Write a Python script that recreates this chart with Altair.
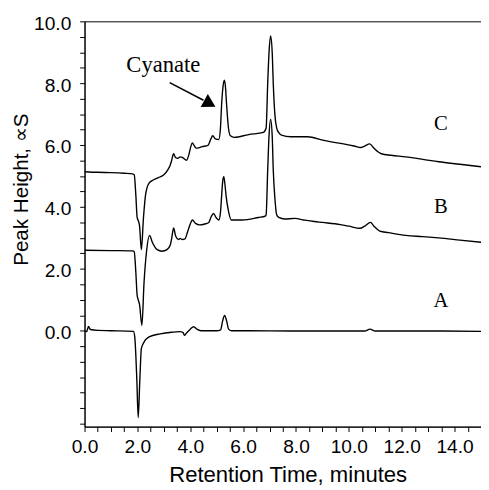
import altair as alt
import pandas as pd

# ---- chromatogram traces (retention time in minutes, peak height) ----
time_a = [0.0, 0.08, 0.15, 0.22, 0.5, 1.0, 1.85, 1.9, 1.94, 1.98, 2.03, 2.09, 2.15, 2.25, 2.44,
          2.87, 3.3, 3.61, 3.72, 3.78, 3.85, 4.0, 4.13, 4.25, 4.4, 5.0, 5.15, 5.22, 5.3, 5.38,
          5.45, 5.55, 6.0, 8.0, 10.6, 10.8, 11.0, 13.0, 15.0]
height_a = [0.0, -0.03, 0.14, 0.04, 0.01, 0.0, -0.02, -0.2, -0.78, -1.63, -2.81, -1.63, -0.57, -0.37, -0.2,
            -0.1, -0.05, -0.03, -0.05, -0.15, -0.08, 0.05, 0.13, 0.05, 0.0, 0.0, 0.03, 0.3, 0.49, 0.3,
            0.05, 0.0, 0.0, -0.01, -0.01, 0.05, -0.01, -0.01, -0.02]

time_b = [0.0, 1.0, 1.82, 1.88, 1.94, 1.99, 2.03, 2.08, 2.17, 2.25, 2.35, 2.46, 2.56, 2.75, 2.93,
          3.12, 3.24, 3.3, 3.37, 3.45, 3.55, 3.62, 3.7, 3.8, 3.9, 4.0, 4.08, 4.2, 4.35, 4.55,
          4.7, 4.8, 4.88, 4.98, 5.08, 5.14, 5.19, 5.23, 5.27, 5.31, 5.35, 5.45, 5.55, 5.97, 6.58,
          6.83, 6.87, 6.93, 6.98, 7.04, 7.1, 7.14, 7.2, 7.27, 7.35, 7.57, 7.95, 8.3, 8.69, 9.0,
          9.68, 10.0, 10.42, 10.6, 10.82, 10.95, 11.17, 11.5, 12.15, 12.8, 13.39, 14.2, 15.0]
height_b = [2.6, 2.59, 2.58, 2.55, 1.9, 1.15, 1.0, 0.85, 0.17, 1.54, 2.6, 3.08, 2.87, 2.62, 2.57,
            2.62, 2.76, 3.0, 3.32, 3.05, 2.95, 2.98, 2.95, 2.97, 3.2, 3.45, 3.58, 3.47, 3.42, 3.45,
            3.5, 3.7, 3.79, 3.65, 3.58, 3.8, 4.4, 4.85, 4.98, 4.75, 4.4, 3.85, 3.58, 3.58, 3.66,
            3.7, 3.75, 5.2, 6.3, 6.83, 6.3, 5.2, 4.3, 3.75, 3.66, 3.61, 3.63, 3.58, 3.53, 3.5,
            3.43, 3.38, 3.31, 3.38, 3.5, 3.38, 3.22, 3.17, 3.08, 3.04, 3.0, 2.93, 2.86]

time_c = [0.0, 0.5, 1.0, 1.5, 1.82, 1.88, 1.94, 1.99, 2.03, 2.08, 2.15, 2.23, 2.31, 2.44, 2.62,
          2.8, 3.0, 3.15, 3.24, 3.3, 3.37, 3.44, 3.53, 3.62, 3.7, 3.86, 3.95, 4.02, 4.08, 4.15,
          4.23, 4.45, 4.67, 4.78, 4.85, 4.95, 5.08, 5.14, 5.19, 5.24, 5.29, 5.33, 5.37, 5.45, 5.52,
          5.66, 6.21, 6.77, 6.87, 6.93, 6.98, 7.04, 7.1, 7.14, 7.2, 7.27, 7.35, 7.45, 7.8, 8.44,
          9.06, 9.5, 9.8, 10.2, 10.45, 10.6, 10.79, 10.95, 11.23, 11.6, 12.15, 12.8, 13.4, 14.2, 15.0]
height_c = [5.14, 5.12, 5.11, 5.09, 5.07, 5.04, 4.4, 3.66, 3.56, 3.4, 2.62, 3.66, 4.4, 4.77, 4.88,
            4.95, 5.04, 5.2, 5.35, 5.52, 5.72, 5.6, 5.57, 5.62, 5.6, 5.51, 5.7, 5.95, 6.07, 5.98,
            5.9, 5.95, 5.99, 6.2, 6.3, 6.2, 6.18, 6.52, 7.37, 7.9, 8.1, 7.9, 7.37, 6.52, 6.3,
            6.25, 6.34, 6.41, 6.55, 8.0, 9.0, 9.53, 9.0, 8.0, 7.0, 6.55, 6.4, 6.32, 6.27, 6.27,
            6.15, 6.08, 6.04, 5.97, 5.92, 5.97, 6.04, 5.9, 5.72, 5.67, 5.62, 5.54, 5.46, 5.38, 5.3]

# ---- trace labels ----
label_text = ["A", "B", "C"]
label_time = [13.48, 13.48, 13.48]
label_height = [0.77, 3.79, 6.48]

# ---- annotation ----
note_text = ["Cyanate"]
note_time = [2.98]
note_height = [8.37]
arrow_start_time = [3.22]
arrow_start_height = [8.02]
arrow_end_time = [4.5]
arrow_end_height = [7.45]
arrow_head_time = [4.74]
arrow_head_height = [7.34]

# ---- axis ticks ----
x_ticks = [0.0, 0.5, 1.0, 1.5, 2.0, 2.5, 3.0, 3.5, 4.0, 4.5, 5.0, 5.5, 6.0, 6.5, 7.0, 7.5,
           8.0, 8.5, 9.0, 9.5, 10.0, 10.5, 11.0, 11.5, 12.0, 12.5, 13.0, 13.5, 14.0, 14.5, 15.0]
y_ticks = [-3.0, -2.5, -2.0, -1.5, -1.0, -0.5, 0.0, 0.5, 1.0, 1.5, 2.0, 2.5, 3.0, 3.5, 4.0, 4.5,
           5.0, 5.5, 6.0, 6.5, 7.0, 7.5, 8.0, 8.5, 9.0, 9.5, 10.0]

rows = []
for name, ts, vs in [("A", time_a, height_a), ("B", time_b, height_b), ("C", time_c, height_c)]:
    for t, v in zip(ts, vs):
        rows.append({"trace": name, "time": t, "height": v})
df = pd.DataFrame(rows)

labels_df = pd.DataFrame({"text": label_text, "time": label_time, "height": label_height})
note_df = pd.DataFrame({"text": note_text, "time": note_time, "height": note_height})
arrow_df = pd.DataFrame({"time": arrow_start_time, "height": arrow_start_height,
                         "t2": arrow_end_time, "h2": arrow_end_height})
head_df = pd.DataFrame({"time": arrow_head_time, "height": arrow_head_height})

xscale = alt.Scale(domain=[0, 15], nice=False, zero=False)
yscale = alt.Scale(domain=[-3.1, 10], nice=False, zero=False)

x_axis = alt.Axis(
    values=x_ticks,
    labelExpr="(datum.value % 2 == 0) ? format(datum.value, '.1f') : ''",
    labelOverlap=False, labelFlush=False,
    tickSize=5, labelPadding=6,
    title="Retention Time, minutes",
    titleX=207, titleY=56, titleBaseline="alphabetic", titleAlign="center",
    titleFontSize=22.5,
)
y_axis = alt.Axis(
    values=y_ticks,
    labelExpr="(datum.value >= 0 && datum.value % 2 == 0) ? format(datum.value, '.1f') : ''",
    labelOverlap=False, labelFlush=False,
    tickSize=5, labelPadding=9, labelOffset=2,
    title="Peak Height, \u221dS",
    titleX=-58, titleY=171, titleAngle=270, titleBaseline="alphabetic", titleAlign="center",
    titleFontSize=21,
)

X = alt.X("time:Q", scale=xscale, axis=x_axis)
Y = alt.Y("height:Q", scale=yscale, axis=y_axis)

lines = alt.Chart(df).mark_line(color="black", strokeWidth=1.4, interpolate="monotone", clip=True).encode(
    x=X, y=Y, detail="trace:N",
)

labels = alt.Chart(labels_df).mark_text(
    font="Liberation Serif", fontSize=21, align="center", baseline="alphabetic", color="black"
).encode(x=X, y=Y, text="text:N")

note = alt.Chart(note_df).mark_text(
    font="Liberation Serif", fontSize=23, align="center", baseline="alphabetic", color="black"
).encode(x=X, y=Y, text="text:N")

arrow = alt.Chart(arrow_df).mark_rule(color="black", strokeWidth=1.5).encode(
    x=X, y=Y, x2="t2:Q", y2="h2:Q",
)

head = alt.Chart(head_df).mark_point(
    shape="triangle-right", angle=29, size=225, filled=True, color="black", opacity=1
).encode(x=X, y=Y)

chart = alt.layer(lines, labels, note, arrow, head).properties(
    width=404, height=413,
    autosize=alt.AutoSizeParams(type="none"),
    padding={"left": 78, "top": 9, "right": 0, "bottom": 60},
).configure_view(stroke="black", strokeWidth=1).configure_axis(
    labelFont="Liberation Sans", labelFontSize=19.5, labelColor="black",
    titleFont="Liberation Sans", titleFontWeight="normal", titleColor="black",
    domainColor="black", tickColor="black", grid=False,
)

chart.save("out.html", embed_options={"renderer": "svg", "actions": False})
